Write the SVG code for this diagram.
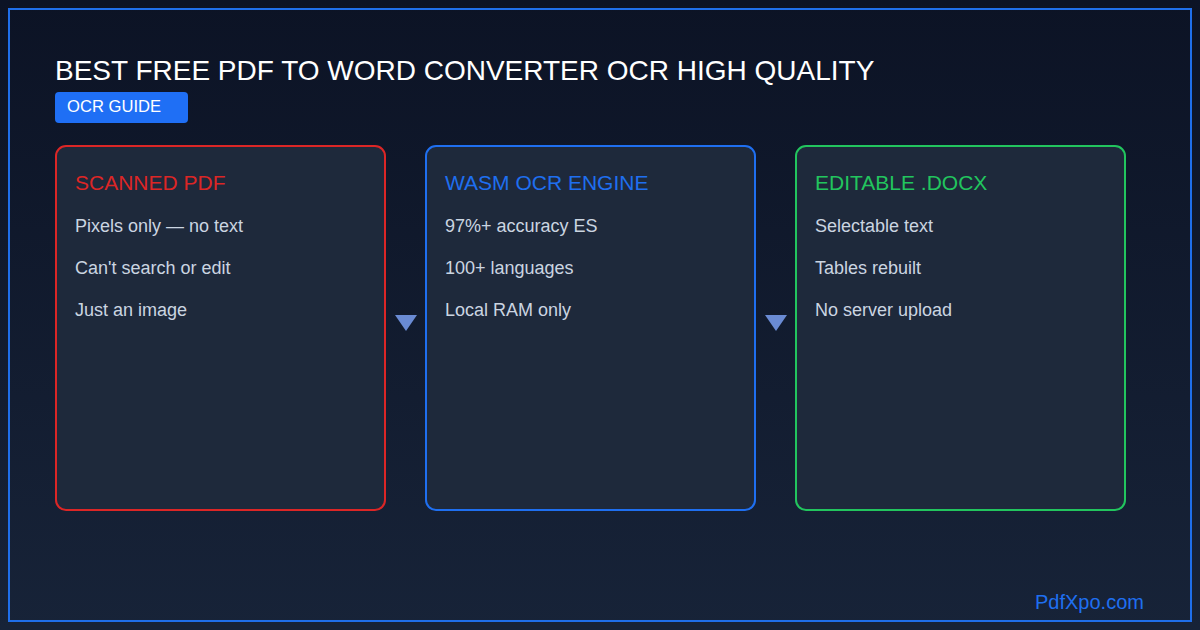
<svg xmlns="http://www.w3.org/2000/svg" width="1200" height="630" viewBox="0 0 1200 630">
<defs>
<linearGradient id="bg" x1="0" y1="0" x2="0" y2="1">
<stop offset="0" stop-color="#0c1325"/>
<stop offset="1" stop-color="#172338"/>
</linearGradient>
<style>
text{font-family:"Liberation Sans",Arial,sans-serif}
.card{fill:#1e293b;stroke-width:2}
.ct{font-size:21px}
.it{font-size:18px;fill:#cbd5e1}
.arr{fill:#6a8bd4}
</style>
</defs>
<rect width="1200" height="630" fill="url(#bg)"/>
<rect x="9" y="9" width="1182" height="612" fill="none" stroke="#1f6feb" stroke-width="2"/>
<g id="title">
<text x="55" y="80" font-size="28" fill="#ffffff">BEST FREE PDF TO WORD CONVERTER OCR HIGH QUALITY</text>
</g>
<g id="badge">
<rect x="55" y="92" width="133" height="31" rx="4" fill="#1f6ff5"/>
<text x="67" y="112" font-size="16.6" fill="#ffffff">OCR GUIDE</text>
</g>
<g id="node-scanned">
<rect class="card" x="56" y="146" width="329" height="364" rx="10" stroke="#dc2626"/>
<text class="ct" x="75" y="190" fill="#dc2626">SCANNED PDF</text>
<text class="it" x="75" y="232">Pixels only — no text</text>
<text class="it" x="75" y="274">Can't search or edit</text>
<text class="it" x="75" y="316">Just an image</text>
</g>
<g id="node-engine">
<rect class="card" x="426" y="146" width="329" height="364" rx="10" stroke="#1f6ff0"/>
<text class="ct" x="445" y="190" fill="#1f6ff0">WASM OCR ENGINE</text>
<text class="it" x="445" y="232">97%+ accuracy ES</text>
<text class="it" x="445" y="274">100+ languages</text>
<text class="it" x="445" y="316">Local RAM only</text>
</g>
<g id="node-docx">
<rect class="card" x="796" y="146" width="329" height="364" rx="10" stroke="#22c55e"/>
<text class="ct" x="815" y="190" fill="#22c55e">EDITABLE .DOCX</text>
<text class="it" x="815" y="232">Selectable text</text>
<text class="it" x="815" y="274">Tables rebuilt</text>
<text class="it" x="815" y="316">No server upload</text>
</g>
<g id="connectors">
<polygon class="arr" points="395,315 417,315 406,331"/>
<polygon class="arr" points="765,315 787,315 776,331"/>
</g>
<g id="footer">
<text x="1035" y="609" font-size="20" fill="#1f6ff0">PdfXpo.com</text>
</g>
</svg>
